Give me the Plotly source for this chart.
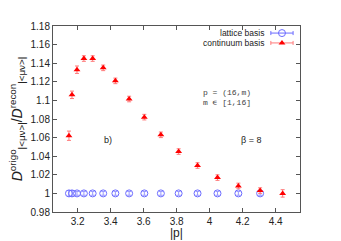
import plotly.graph_objects as go

# |p| values for p = (16, m), m = 1..16
p_abs = [3.1477, 3.1661, 3.1964, 3.2383, 3.2914, 3.3552, 3.4291, 3.5124,
         3.6045, 3.7048, 3.8125, 3.9270, 4.0479, 4.1745, 4.3063, 4.4429]

lattice_y = [1.000, 1.000, 1.000, 1.000, 1.000, 1.000, 1.000, 1.000,
             1.000, 1.000, 1.000, 1.000, 1.000, 1.000, 1.000]
lattice_err = [0.003, 0.003, 0.002, 0.002, 0.002, 0.002, 0.002, 0.002,
               0.002, 0.002, 0.002, 0.002, 0.002, 0.002, 0.002]

continuum_y = [1.062, 1.106, 1.133, 1.145, 1.145, 1.135, 1.121, 1.1015,
               1.082, 1.063, 1.045, 1.030, 1.017, 1.008, 1.003, 1.000]
continuum_err = [0.005, 0.004, 0.004, 0.003, 0.003, 0.003, 0.003, 0.003,
                 0.003, 0.003, 0.003, 0.003, 0.003, 0.003, 0.003, 0.004]

x_ticks = [3.2, 3.4, 3.6, 3.8, 4.0, 4.2, 4.4]
x_tick_text = ["3.2", "3.4", "3.6", "3.8", "4", "4.2", "4.4"]
y_ticks = [0.98, 1.0, 1.02, 1.04, 1.06, 1.08, 1.1, 1.12, 1.14, 1.16, 1.18]
y_tick_text = ["0.98", "1", "1.02", "1.04", "1.06", "1.08", "1.1", "1.12", "1.14", "1.16", "1.18"]

blue = "#6b6bff"
blue_err = "#9a9aff"
red = "#ff0000"
red_err = "#ff7a7a"
axis_col = "#555555"
font_main = "Liberation Sans, Arial, sans-serif"
font_mono = "Liberation Mono, Courier New, monospace"

fig = go.Figure()

fig.add_trace(go.Scatter(
    x=p_abs[:len(lattice_y)], y=lattice_y, mode="markers",
    marker=dict(symbol="circle-open", size=7, color=blue, line=dict(width=1, color=blue)),
    error_y=dict(type="data", array=lattice_err, color=blue_err, thickness=1, width=2),
    showlegend=False))

fig.add_trace(go.Scatter(
    x=p_abs, y=continuum_y, mode="markers",
    marker=dict(symbol="triangle-up", size=6, color=red),
    error_y=dict(type="data", array=continuum_err, color=red_err, thickness=1, width=2),
    showlegend=False))

# legend samples (gnuplot-style: text left, sample right)
fig.add_trace(go.Scatter(
    x=[0.927], y=[0.962], xaxis="x2", yaxis="y2", mode="markers",
    marker=dict(symbol="circle-open", size=7, color=blue, line=dict(width=1, color=blue)),
    error_x=dict(type="data", array=[0.045], color=blue, thickness=1, width=2),
    showlegend=False, hoverinfo="skip"))
fig.add_trace(go.Scatter(
    x=[0.927], y=[0.909], xaxis="x2", yaxis="y2", mode="markers",
    marker=dict(symbol="triangle-up", size=6, color=red),
    error_x=dict(type="data", array=[0.045], color=red_err, thickness=1, width=2),
    showlegend=False, hoverinfo="skip"))

axis_common = dict(showgrid=False, zeroline=False, showline=True, linecolor=axis_col,
                   linewidth=1, mirror="allticks", ticks="inside", ticklen=4, automargin=False,
                   tickcolor=axis_col, tickfont=dict(family=font_main, size=10, color="#222"))

fig.update_layout(
    width=341, height=241,
    margin=dict(l=53, r=41, t=26, b=29),
    paper_bgcolor="white", plot_bgcolor="white",
    xaxis=dict(range=[3.051, 4.548], tickvals=x_ticks, ticktext=x_tick_text,
               **axis_common),
    yaxis=dict(range=[0.98, 1.18], tickvals=y_ticks, ticktext=y_tick_text,
               title=dict(text="<i>D</i><sup>origo</sup><sub>|&lt;μν&gt;|</sub>/<i>D</i><sup>recon</sup><sub>|&lt;μν&gt;|</sub>",
                          font=dict(family=font_main, size=14, color="#222"), standoff=4),
               **axis_common),
    xaxis2=dict(range=[0, 1], overlaying="x", visible=False),
    yaxis2=dict(range=[0, 1], overlaying="y", visible=False),
    annotations=[
        dict(x=0.5, y=-0.113, xref="paper", yref="paper", text="|p|", showarrow=False,
             xanchor="center", yanchor="middle", font=dict(family=font_main, size=12, color="#222")),
        dict(x=0.862, y=0.962, xref="paper", yref="paper", text="lattice basis", showarrow=False,
             xanchor="right", yanchor="middle", font=dict(family=font_main, size=8.5, color="#222")),
        dict(x=0.862, y=0.909, xref="paper", yref="paper", text="continuum basis", showarrow=False,
             xanchor="right", yanchor="middle", font=dict(family=font_main, size=8.5, color="#222")),
        dict(x=0.60, y=0.645, xref="paper", yref="paper", text="p = (16,m)", showarrow=False,
             xanchor="left", yanchor="middle", font=dict(family=font_mono, size=8, color="#444")),
        dict(x=0.60, y=0.59, xref="paper", yref="paper", text="m ∊ [1,16]", showarrow=False,
             xanchor="left", yanchor="middle", font=dict(family=font_mono, size=8, color="#444")),
        dict(x=0.2, y=0.385, xref="paper", yref="paper", text="b)", showarrow=False,
             xanchor="left", yanchor="middle", font=dict(family=font_main, size=9, color="#222")),
        dict(x=0.755, y=0.385, xref="paper", yref="paper", text="β = 8", showarrow=False,
             xanchor="left", yanchor="middle", font=dict(family=font_main, size=9, color="#222")),
    ],
)

fig.write_html("out.html", config={"displayModeBar": False},
               post_script="document.body.style.margin='0';document.body.style.overflow='hidden';")
